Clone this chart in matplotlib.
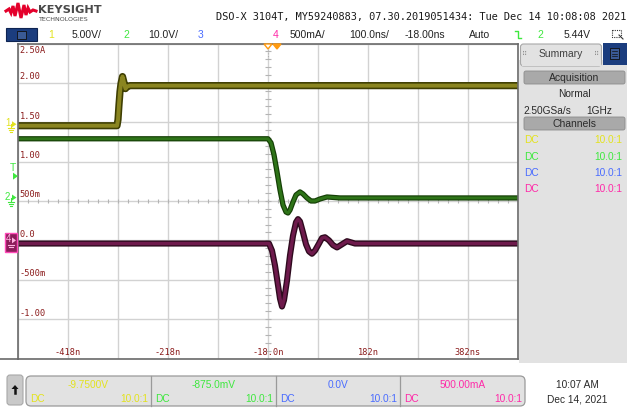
import matplotlib.pyplot as plt
from matplotlib.patches import Rectangle, FancyBboxPatch, Polygon
import numpy as np

# scope settings
ch1_scale, ch1_offset = 5.0, -9.75      # V/div, V
ch2_scale, ch2_offset = 10.0, -0.875    # V/div, V
ch4_scale, ch4_offset = 0.5, 0.5        # A/div, A
t_scale, t_delay = 100.0, -18.0         # ns/div, ns
trig_level = 5.44                       # V on ch2

# ch1 (olive) - volts
ch1_t = [-518, -320, -318, -316, -314, -312, -309, -306, -303, -300, -294, 482]
ch1_v = [-0.19, -0.19, 0.57, 2.48, 4.14, 5.16, 6.05, 5.29, 4.52, 4.78, 4.90, 4.90]

# ch2 (green) - volts
ch2_t = [-518, -18, -12, -6, 0, 6, 12, 18, 22, 26, 32, 38, 46, 52, 60, 68, 76, 86, 100, 126, 482]
ch2_v = [14.93, 14.93, 13.91, 10.85, 6.52, 1.94, -1.89, -3.67, -3.92, -3.16, -1.12, 0.66,
         1.43, 0.92, -0.10, -0.87, -0.87, -0.36, 0.15, -0.10, -0.10]

# ch4 (maroon) - amps
ch4_t = [-518, -16, -10, -4, 2, 6, 10, 14, 20, 26, 32, 38, 42, 46, 52, 58, 64, 70, 76,
         84, 90, 96, 104, 112, 120, 130, 140, 156, 482]
ch4_i = [-0.04, -0.04, -0.13, -0.32, -0.57, -0.74, -0.84, -0.76, -0.51, -0.19, 0.06, 0.23,
         0.27, 0.24, 0.10, -0.05, -0.14, -0.17, -0.13, -0.04, 0.03, 0.04, 0.0, -0.06,
         -0.09, -0.05, -0.01, -0.04, -0.04]

y_labels = ["2.50A", "2.00", "1.50", "1.00", "500m", "0.0", "-500m", "-1.00"]
x_label_t = [-418, -218, -18, 182, 382]
x_labels = ["-418n", "-218n", "-18.0n", "182n", "382ns"]

ch_colors = ['#e2e21e', '#3ee83e', '#4a6cff', '#ff2aa8']
sec_values = ["-9.7500V", "-875.0mV", "0.0V", "500.00mA"]
sec_edges = [26, 151, 276, 400, 525]

label_red = '#8b1c1c'
mono = 'DejaVu Sans Mono'
sans = 'Liberation Sans'

fig = plt.figure(figsize=(6.27, 4.12), dpi=100)
fig.patch.set_facecolor('white')

# ---------- waveform area ----------
ax = fig.add_axes([18 / 627, (412 - 358.5) / 412, 500 / 627, 315 / 412], zorder=1)
xmin, xmax = t_delay - 5 * t_scale, t_delay + 5 * t_scale
ax.set_xlim(xmin, xmax)
ax.set_ylim(-4, 4)
ax.set_xticks(np.arange(xmin, xmax + 1, t_scale))
ax.set_yticks(np.arange(-4, 5, 1))
ax.tick_params(length=0, labelbottom=False, labelleft=False)
ax.grid(color='#d2d2d2', lw=1)
for s in ax.spines.values():
    s.set_color('#6a6a6a')
    s.set_linewidth(1.2)

# minor ticks on center lines
ax.plot(np.arange(xmin, xmax, t_scale / 5), np.zeros(50), ls='none', marker='|',
        ms=3.5, color='#b4b4b4', mew=0.8)
ax.plot(np.full(40, t_delay), np.arange(-4, 4, 0.2), ls='none', marker='_',
        ms=5, color='#b4b4b4', mew=0.8)


def to_div(vals, scale, offset):
    return (np.array(vals) - offset) / scale


def trace(t, y, dark, light, w):
    ax.plot(t, y, color=dark, lw=w, solid_joinstyle='round', solid_capstyle='butt')
    ax.plot(t, y, color=light, lw=w * 0.55, solid_joinstyle='round', solid_capstyle='butt')


trace(ch1_t, to_div(ch1_v, ch1_scale, ch1_offset), '#3e3e02', '#8a8520', 5.2)
trace(ch2_t, to_div(ch2_v, ch2_scale, ch2_offset), '#153f06', '#2e7418', 3.8)
trace(ch4_t, to_div(ch4_i, ch4_scale, ch4_offset), '#2e0a1e', '#6e1a4c', 4.4)

for k, lab in enumerate(y_labels):
    d = 4 - k
    ax.text(xmin + 3, d - 0.07 if k == 0 else d + 0.04, lab, color=label_red,
            family=mono, fontsize=6.2, va='top' if k == 0 else 'bottom', ha='left')
for t, lab in zip(x_label_t, x_labels):
    ax.text(t, -3.96, lab, color=label_red, family=mono, fontsize=6.2,
            ha='center', va='bottom')

# ---------- overlay (UI chrome) ----------
ov = fig.add_axes([0, 0, 1, 1], zorder=5)
ov.set_xlim(0, 627)
ov.set_ylim(412, 0)
ov.axis('off')

center_px, div_px = 201.0, 315 / 8


def ypx(div):
    return center_px - div * div_px


# logo
logo = [(6, 11), (9, 9), (11, 13), (13, 6), (15, 16), (18, 3), (21, 18), (24, 5),
        (26, 15), (28, 8), (30, 12), (33, 10), (36, 11)]
ov.plot(*zip(*logo), color='#e4002b', lw=2.2, solid_joinstyle='miter')
ov.text(38, 10, "KEYSIGHT", family='DejaVu Sans', weight='bold', fontsize=8.2,
        color='#4a4a4a', va='center')
ov.text(38.5, 19.5, "TECHNOLOGIES", family='DejaVu Sans', fontsize=4.6,
        color='#4a4a4a', va='center')
ov.text(626, 17, "DSO-X 3104T, MY59240883, 07.30.2019051434: Tue Dec 14 10:08:08 2021",
        family=mono, fontsize=7.4, color='#1a1a1a', ha='right', va='center')

# status row
ov.add_patch(Rectangle((6, 28), 31, 13, fc='#1b3d7e', ec='#0e2452', lw=0.8))
ov.add_patch(Rectangle((17, 30.5), 9, 8, fc='#3a5a95', ec='#101010', lw=0.6))
row_y = 34.5
ov.text(51, row_y, "1", color=ch_colors[0], family=sans, fontsize=7.5, ha='center', va='center')
ov.text(87, row_y, "5.00V/", color='#222222', family=sans, fontsize=7.5, ha='center', va='center')
ov.text(126, row_y, "2", color=ch_colors[1], family=sans, fontsize=7.5, ha='center', va='center')
ov.text(163, row_y, "10.0V/", color='#222222', family=sans, fontsize=7.5, ha='center', va='center')
ov.text(201, row_y, "3", color=ch_colors[2], family=sans, fontsize=7.5, ha='center', va='center')
ov.text(276, row_y, "4", color=ch_colors[3], family=sans, fontsize=7.5, ha='center', va='center')
ov.text(307, row_y, "500mA/", color='#222222', family=sans, fontsize=7.5, ha='center', va='center')
ov.text(369, row_y, "100.0ns/", color='#222222', family=sans, fontsize=7.5, ha='center', va='center')
ov.text(425, row_y, "-18.00ns", color='#222222', family=sans, fontsize=7.5, ha='center', va='center')
ov.text(480, row_y, "Auto", color='#222222', family=sans, fontsize=7.5, ha='center', va='center')
ov.plot([515, 518, 518, 521], [31, 31, 38, 38], color=ch_colors[1], lw=1)
ov.text(540, row_y, "2", color=ch_colors[1], family=sans, fontsize=7.5, ha='center', va='center')
ov.text(577, row_y, "5.44V", color='#222222', family=sans, fontsize=7.5, ha='center', va='center')
ov.add_patch(Rectangle((612, 30), 9, 7, fc='none', ec='#333333', lw=0.8, ls=(0, (1, 1))))
ov.plot([619, 623], [35, 39], color='#333333', lw=0.8)

# trigger position markers
trig_x = 18 + (0 - xmin) / (xmax - xmin) * 500
ref_x = 18 + (t_delay - xmin) / (xmax - xmin) * 500
ov.add_patch(Polygon([(ref_x - 4, 44), (ref_x + 4, 44), (ref_x, 49)], closed=True,
                     fc='white', ec='#ff9a10', lw=1))
ov.add_patch(Polygon([(trig_x - 4, 44), (trig_x + 4, 44), (trig_x, 49)], closed=True,
                     fc='#ff9a10', ec='#ff9a10', lw=1))
ov.plot([ref_x, ref_x], [50, 60], color='#b0b0b0', lw=0.8, ls=(0, (1, 1.5)))

# channel ground markers
g1 = ypx(-ch1_offset / ch1_scale)
g2 = ypx(-ch2_offset / ch2_scale)
g4 = ypx(-ch4_offset / ch4_scale)
gt = ypx((trig_level - ch2_offset) / ch2_scale)
for g, c, n in [(g1, ch_colors[0], "1"), (g2, ch_colors[1], "2")]:
    ov.text(7.5, g - 1, n, color=c, family=sans, fontsize=7, ha='center', va='center')
    ov.add_patch(Polygon([(12, g - 3), (12, g + 3), (16.5, g)], closed=True, fc=c, ec='none'))
    ov.plot([11, 11], [g, g + 4], color=c, lw=0.8)
    ov.plot([8, 14], [g + 4, g + 4], color=c, lw=0.8)
    ov.plot([9, 13], [g + 6, g + 6], color=c, lw=0.8)
    ov.plot([10, 12], [g + 8, g + 8], color=c, lw=0.8)
ov.add_patch(Rectangle((5, g4 - 7), 11.5, 19, fc='#8c1c5a', ec='#ff4ab8', lw=1))
ov.text(8, g4 - 1, "4", color='#ffb0e0', family=sans, fontsize=7, ha='center', va='center')
ov.add_patch(Polygon([(12, g4 - 3), (12, g4 + 3), (16, g4)], closed=True, fc='#ffb0e0', ec='none'))
ov.plot([8, 14], [g4 + 5, g4 + 5], color='#ffb0e0', lw=0.8)
ov.plot([9, 13], [g4 + 7, g4 + 7], color='#ffb0e0', lw=0.8)
# trigger level marker
ov.text(12.5, gt - 8, "T", color=ch_colors[1], family=sans, fontsize=7.5, ha='center', va='center')
ov.add_patch(Polygon([(13, gt - 3.5), (13, gt + 3.5), (18, gt)], closed=True,
                     fc=ch_colors[1], ec='none'))

# bottom border line extends to left edge
ov.plot([0, 18], [358.5, 358.5], color='#6a6a6a', lw=1.2)

# ---------- right summary panel ----------
ov.add_patch(Rectangle((519, 60), 108, 303, fc='#e2e2e2', ec='none'))
ov.add_patch(FancyBboxPatch((520.5, 44), 81, 22, boxstyle="round,pad=0,rounding_size=3",
                            fc='#e2e2e2', ec='#a8a8a8', lw=0.8))
ov.add_patch(Rectangle((521.5, 58), 79, 8, fc='#e2e2e2', ec='none'))
ov.text(561, 54, "Summary", color='#404040', family=sans, fontsize=7.5, ha='center', va='center')
ov.text(525, 54, "\u283f", color='#909090', family='DejaVu Sans', fontsize=5, ha='center', va='center')
ov.text(597, 54, "\u283f", color='#909090', family='DejaVu Sans', fontsize=5, ha='center', va='center')
ov.add_patch(Rectangle((603, 43), 24, 22, fc='#1b3d7e', ec='none'))
ov.add_patch(Rectangle((610, 48), 9, 11, fc='#3a5a95', ec='#101010', lw=0.6))
for yy in [51, 53.5, 56]:
    ov.plot([612, 617], [yy, yy], color='#101010', lw=0.5)

for y0, lab in [(71, "Acquisition"), (117, "Channels")]:
    ov.add_patch(FancyBboxPatch((524, y0), 101, 13, boxstyle="round,pad=0,rounding_size=2",
                                fc='#a9a9a9', ec='#8c8c8c', lw=0.6))
    ov.text(574.5, y0 + 6.8, lab, color='#2a2a2a', family=sans, fontsize=7.5,
            ha='center', va='center')
ov.text(574.5, 94, "Normal", color='#2a2a2a', family=sans, fontsize=7.3, ha='center', va='center')
ov.text(523, 110.5, "2.50GSa/s", color='#2a2a2a', family=sans, fontsize=7.3, ha='left', va='center')
ov.text(599, 110.5, "1GHz", color='#2a2a2a', family=sans, fontsize=7.3, ha='center', va='center')
for k, yy in enumerate([140, 156.5, 172.5, 188.5]):
    ov.text(524, yy, "DC", color=ch_colors[k], family=sans, fontsize=7.3, ha='left', va='center')
    ov.text(622, yy, "10.0:1", color=ch_colors[k], family=sans, fontsize=7.3, ha='right', va='center')

# ---------- bottom channel bar ----------
ov.add_patch(FancyBboxPatch((7, 375), 16, 30, boxstyle="round,pad=0,rounding_size=3",
                            fc='#c9c9c9', ec='#a8a8a8', lw=0.8))
ov.add_patch(Polygon([(11.5, 389), (18.5, 389), (15, 385)], closed=True, fc='#111111', ec='none'))
ov.plot([15, 15], [389, 393], color='#111111', lw=1.8)
ov.add_patch(FancyBboxPatch((26, 376), 499, 30, boxstyle="round,pad=0,rounding_size=5",
                            fc='#e2e2e2', ec='#9a9a9a', lw=0.9))
for xd in sec_edges[1:-1]:
    ov.plot([xd, xd], [376, 406], color='#9a9a9a', lw=0.9)
for k in range(4):
    l, r = sec_edges[k], sec_edges[k + 1]
    ov.text((l + r) / 2, 384.5, sec_values[k], color=ch_colors[k], family=sans, fontsize=7.3,
            ha='center', va='center')
    ov.text(l + 4, 399, "DC", color=ch_colors[k], family=sans, fontsize=7.3, ha='left', va='center')
    ov.text(r - 3, 399, "10.0:1", color=ch_colors[k], family=sans, fontsize=7.3,
            ha='right', va='center')

ov.text(577, 384.5, "10:07 AM", color='#2a2a2a', family=sans, fontsize=7.3, ha='center', va='center')
ov.text(577, 399, "Dec 14, 2021", color='#2a2a2a', family=sans, fontsize=7.3, ha='center', va='center')

fig.savefig('out.png', dpi=100)
